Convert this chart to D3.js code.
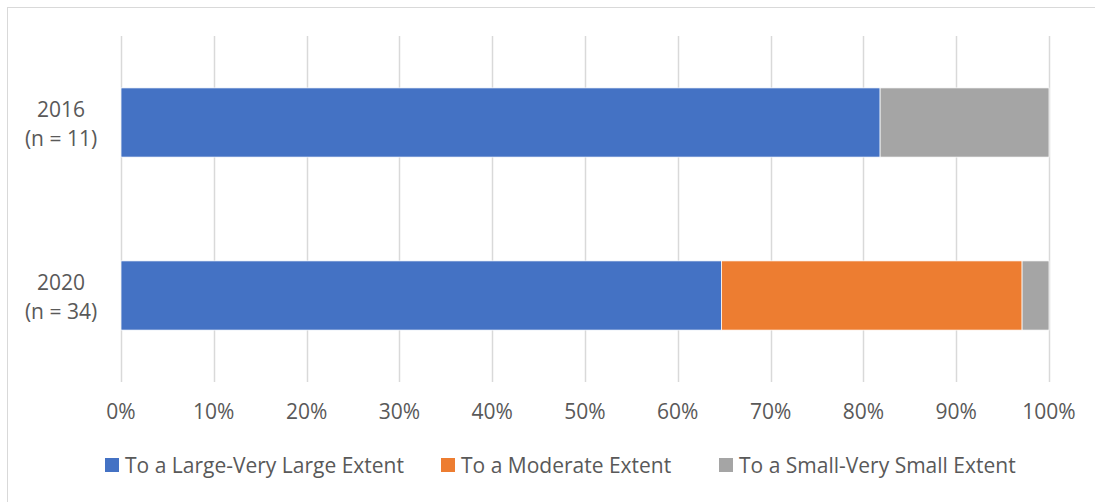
<!DOCTYPE html>
<html>
<head>
<meta charset="utf-8">
<script src="https://cdn.jsdelivr.net/npm/d3@7"></script>
<style>
  html, body { margin: 0; padding: 0; background: #fff; }
  svg { display: block; }
  text { font-family: "Open Sans", sans-serif; fill: #595959; }
</style>
</head>
<body>
<svg id="chart" width="1095" height="502"></svg>
<script>
// Survey responses by year (share of respondents)
const categories = ["2016", "2020"];
const categoryNotes = ["(n = 11)", "(n = 34)"];
const seriesNames = ["To a Large-Very Large Extent", "To a Moderate Extent", "To a Small-Very Small Extent"];
const largeExtent = [0.818, 0.647];
const moderateExtent = [0.0, 0.324];
const smallExtent = [0.182, 0.029];
const tickValues = [0, 0.1, 0.2, 0.3, 0.4, 0.5, 0.6, 0.7, 0.8, 0.9, 1.0];
const colors = ["#4472C4", "#ED7D31", "#A5A5A5"];

const fontSize = 21;
const svg = d3.select("#chart");

// chart frame
svg.append("rect")
  .attr("x", 7.5).attr("y", 7.5)
  .attr("width", 1100).attr("height", 510)
  .attr("fill", "none").attr("stroke", "#d9d9d9").attr("stroke-width", 1);

const plot = { left: 121, right: 1049, top: 36, bottom: 382 };

const x = d3.scaleLinear().domain([0, 1]).range([plot.left, plot.right]);
const y = d3.scaleBand().domain(categories)
  .range([plot.top, plot.bottom]).paddingInner(0.6).paddingOuter(0.3);

// vertical gridlines
svg.append("g").selectAll("line")
  .data(tickValues).join("line")
  .attr("x1", d => Math.round(x(d)) + 0.5).attr("x2", d => Math.round(x(d)) + 0.5)
  .attr("y1", plot.top).attr("y2", plot.bottom)
  .attr("stroke", "#d9d9d9").attr("stroke-width", 1.5);

// stacked rows
const stackData = categories.map((c, i) => ({
  category: c,
  [seriesNames[0]]: largeExtent[i],
  [seriesNames[1]]: moderateExtent[i],
  [seriesNames[2]]: smallExtent[i]
}));
const stacked = d3.stack().keys(seriesNames)(stackData);

svg.append("g").selectAll("g")
  .data(stacked).join("g")
  .attr("fill", (d, i) => colors[i])
  .selectAll("rect")
  .data(d => d.filter(p => p[1] - p[0] > 0)).join("rect")
  .attr("x", d => x(d[0]))
  .attr("width", d => x(d[1]) - x(d[0]))
  .attr("y", d => y(d.data.category))
  .attr("height", y.bandwidth())
  .attr("stroke", "#ffffff").attr("stroke-width", 0.75);

// category labels
const catLabels = svg.append("g").selectAll("text")
  .data(categories).join("text")
  .attr("text-anchor", "middle")
  .attr("font-size", fontSize)
  .attr("x", 61)
  .attr("y", d => y(d) + y.bandwidth() / 2);
catLabels.append("tspan").attr("x", 61).attr("dy", "-0.26em").text(d => d);
catLabels.append("tspan").attr("x", 61).attr("dy", "1.38em").text((d, i) => categoryNotes[i]);

// x-axis tick labels
const fmt = d3.format(".0%");
svg.append("g").selectAll("text")
  .data(tickValues).join("text")
  .attr("x", d => x(d))
  .attr("y", 419)
  .attr("text-anchor", "middle")
  .attr("font-size", fontSize)
  .text(d => fmt(d));

// legend
const legendX = [105, 441, 719];
const legend = svg.append("g").selectAll("g")
  .data(seriesNames).join("g")
  .attr("transform", (d, i) => `translate(${legendX[i]},465)`);
legend.append("rect")
  .attr("x", 0).attr("y", -7).attr("width", 14).attr("height", 14)
  .attr("fill", (d, i) => colors[i]);
legend.append("text")
  .attr("x", 20).attr("y", 7.5)
  .attr("font-size", fontSize)
  .text(d => d);
</script>
</body>
</html>
